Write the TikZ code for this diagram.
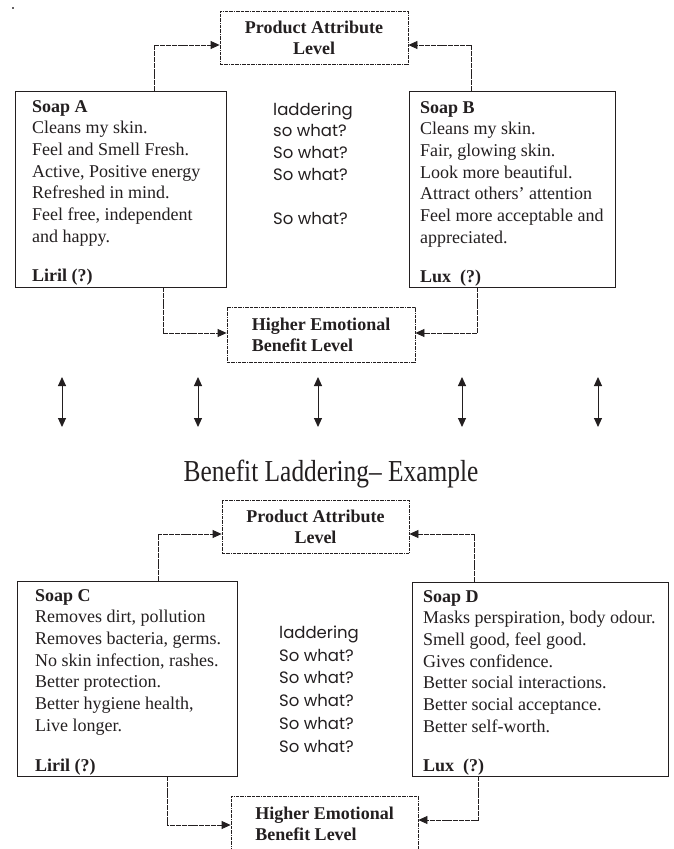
\documentclass[tikz,border=0pt]{standalone}
\usepackage{fontspec}
\setmainfont{Liberation Serif}
\newfontfamily\gothic{Poppins}
\usetikzlibrary{arrows.meta}
\definecolor{ink}{HTML}{231F20}
\begin{document}
\begin{tikzpicture}[x=1pt,y=-1pt,
  solidbox/.style={draw=ink,line width=0.9pt,rectangle,inner sep=0pt},
  levelbox/.style={draw=ink,line width=0.8pt,dash pattern=on 3pt off 0.8pt on 0.8pt off 0.8pt,
    rectangle,inner sep=0pt,text=ink,font=\bfseries\fontsize{18}{21}\selectfont},
  conn/.style={draw=ink,line width=0.8pt,dash pattern=on 5pt off 0.8pt,
    -{Triangle[length=9pt,width=8pt]}},
  dbl/.style={draw=ink,line width=1pt,{Triangle[length=9pt,width=8pt]}-{Triangle[length=9pt,width=8pt]}},
  bodytext/.style={anchor=base west,inner sep=0pt,align=left,text=ink,
    font=\fontsize{18}{21.7}\selectfont},
  brand/.style={anchor=base west,inner sep=0pt,text=ink,font=\bfseries\fontsize{18}{21.7}\selectfont},
  why/.style={anchor=base west,inner sep=0pt,align=left,text=ink,font=\gothic\fontsize{16.5}{21.8}\selectfont},
]
\useasboundingbox (0,0) rectangle (673,849);
\fill[ink!70] (11.5,6.5) rectangle (13.5,8.5);

% ---------- top diagram ----------
\node[levelbox,minimum width=188pt,minimum height=53pt,align=center] (PA1) at (314,37.5)
  {Product Attribute\\Level};
\node[solidbox,minimum width=211pt,minimum height=196pt] (A) at (120.5,189) {};
\node[solidbox,minimum width=206pt,minimum height=196pt] (B) at (512,189) {};
\node[levelbox,minimum width=188pt,minimum height=55pt,align=left] (HE1) at (321,334.5)
  {Higher Emotional\\Benefit Level};

\node[bodytext] (tA) at (32,242.2) {\textbf{Soap A}\\Cleans my skin.\\Feel and Smell Fresh.\\Active, Positive energy\\Refreshed in mind.\\Feel free, independent\\and happy.};
\node[brand] (lA) at (32,281) {Liril (?)};
\node[bodytext] (tB) at (420,243.2) {\textbf{Soap B}\\Cleans my skin.\\Fair, glowing skin.\\Look more beautiful.\\Attract others’ attention\\Feel more acceptable and\\appreciated.};
\node[brand] (lB) at (420,282) {Lux~~(?)};
\node[why] (w1) at (273,224) {laddering\\so what?\\So what?\\So what?\\[21.8pt]So what?};

\coordinate (a0) at (154,91);
\coordinate (b0) at (471,91);
\coordinate (a1) at (163,287);
\coordinate (b1) at (477,287);
\draw[conn] (a0) |- ([yshift=-7.5pt]PA1.west);
\draw[conn] (b0) |- ([yshift=-7.5pt]PA1.east);
\draw[conn] (a1) |- ([yshift=1.5pt]HE1.west);
\draw[conn] (b1) |- ([yshift=1.5pt]HE1.east);

% ---------- double arrows ----------
\foreach \i/\x in {1/62,2/198,3/318,4/462,5/598}{
  \coordinate (up\i) at (\x,377);
  \coordinate (dn\i) at (\x,427);
  \draw[dbl] (up\i) -- (dn\i);
}
\node[text=ink,inner sep=0pt,font=\fontsize{25.4}{30}\selectfont] (cap) at (331,474)
  {\scalebox{1}[1.2]{Benefit Laddering– Example}};

% ---------- bottom diagram ----------
\node[levelbox,minimum width=187pt,minimum height=53pt,align=center] (PA2) at (315.5,526.5)
  {Product Attribute\\Level};
\node[solidbox,minimum width=220pt,minimum height=195pt] (C) at (127,678.5) {};
\node[solidbox,minimum width=256pt,minimum height=194pt] (D) at (540,679) {};
\node[levelbox,minimum width=187pt,minimum height=55pt,align=left] (HE2) at (324.5,823.5)
  {Higher Emotional\\Benefit Level};

\node[bodytext] (tC) at (35,731.2) {\textbf{Soap C}\\Removes dirt, pollution\\Removes bacteria, germs.\\No skin infection, rashes.\\Better protection.\\Better hygiene health,\\Live longer.};
\node[brand] (lC) at (35,771) {Liril (?)};
\node[bodytext] (tD) at (423,732.2) {\textbf{Soap D}\\Masks perspiration, body odour.\\Smell good, feel good.\\Gives confidence.\\Better social interactions.\\Better social acceptance.\\Better self-worth.};
\node[brand] (lD) at (423,771) {Lux~~(?)};
\node[why,font=\gothic\fontsize{16.5}{22.7}\selectfont] (w2) at (279,752) {laddering\\So what?\\So what?\\So what?\\So what?\\So what?};

\coordinate (c0) at (158,581);
\coordinate (d0) at (474,582);
\coordinate (c1) at (167,776);
\coordinate (d1) at (478,776);
\draw[conn] (c0) |- ([yshift=-7.5pt]PA2.west);
\draw[conn] (d0) |- ([yshift=-7.5pt]PA2.east);
\draw[conn] (c1) |- ([yshift=-1.5pt]HE2.west);
\draw[conn] (d1) |- ([yshift=3.5pt]HE2.east);
\end{tikzpicture}
\end{document}
